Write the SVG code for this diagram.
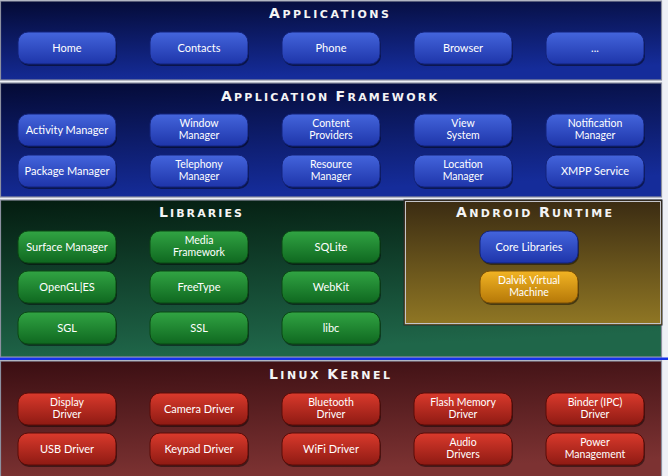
<svg xmlns="http://www.w3.org/2000/svg" width="668" height="476" viewBox="0 0 668 476">
<defs>
<linearGradient id="gNavy" x1="0" y1="0" x2="0.25" y2="1"><stop offset="0" stop-color="#040a34"/><stop offset="1" stop-color="#152c9a"/></linearGradient>
<linearGradient id="gGreenBg" x1="0" y1="0" x2="0.2" y2="1"><stop offset="0" stop-color="#041c10"/><stop offset="1" stop-color="#1f6649"/></linearGradient>
<linearGradient id="gRuntime" x1="0" y1="0" x2="0" y2="1"><stop offset="0" stop-color="#3a2b12"/><stop offset="1" stop-color="#907724"/></linearGradient>
<linearGradient id="gRedBg" x1="0" y1="0" x2="0.2" y2="1"><stop offset="0" stop-color="#3a0e12"/><stop offset="1" stop-color="#7c3232"/></linearGradient>
<linearGradient id="bBlue" x1="0" y1="0" x2="0" y2="1"><stop offset="0" stop-color="#4465dc"/><stop offset="1" stop-color="#1e35aa"/></linearGradient>
<linearGradient id="bGreen" x1="0" y1="0" x2="0" y2="1"><stop offset="0" stop-color="#31a443"/><stop offset="1" stop-color="#0f6820"/></linearGradient>
<linearGradient id="bRed" x1="0" y1="0" x2="0" y2="1"><stop offset="0" stop-color="#da3a2c"/><stop offset="1" stop-color="#8e1a13"/></linearGradient>
<linearGradient id="bYellow" x1="0" y1="0" x2="0" y2="1"><stop offset="0" stop-color="#f2b424"/><stop offset="1" stop-color="#b57808"/></linearGradient>
</defs>
<style>
.panel{stroke:#8c90a0;stroke-width:1.2}
.sh{fill:#000;opacity:0.45}
.btn{stroke-width:1}
.blue{fill:url(#bBlue);stroke:#13237a}
.green{fill:url(#bGreen);stroke:#0a4814}
.red{fill:url(#bRed);stroke:#5a0c08}
.yellow{fill:url(#bYellow);stroke:#7a5006}
.lbl{font-family:Lato,"Liberation Sans",sans-serif;font-size:11px;fill:#fff;text-anchor:middle}
.two{font-size:10.5px}
.ttl{font-family:"DejaVu Sans",sans-serif;font-weight:bold;fill:#f4f4f4}
.big{font-size:14px}
.sm{font-size:11px}
</style>
<rect x="0" y="0" width="668" height="476" fill="#eef0f6"/>
<g id="panels">
<rect class="panel" x="0.5" y="1" width="661" height="79" fill="url(#gNavy)"/>
<rect class="panel" x="0.5" y="83" width="661" height="114" fill="url(#gNavy)"/>
<rect class="panel" x="0.5" y="200" width="661" height="157" fill="url(#gGreenBg)"/>
<rect class="panel" x="0.5" y="361" width="661" height="116" fill="url(#gRedBg)"/>
<rect x="0" y="357.5" width="668" height="2.5" fill="#1532e8"/>
<rect x="404" y="200" width="258" height="125" fill="url(#gRuntime)" stroke="#2a2a30" stroke-width="1"/>
<rect x="405.5" y="201.5" width="255" height="122" fill="none" stroke="#c4c4c8" stroke-width="1"/>
</g>
<g id="titles">
<text class="ttl" x="269" y="18" textLength="120" lengthAdjust="spacing"><tspan class="big">A</tspan><tspan class="sm">PPLICATIONS</tspan></text>
<text class="ttl" x="221" y="101" textLength="216" lengthAdjust="spacing"><tspan class="big">A</tspan><tspan class="sm">PPLICATION </tspan><tspan class="big">F</tspan><tspan class="sm">RAMEWORK</tspan></text>
<text class="ttl" x="159" y="217" textLength="83" lengthAdjust="spacing"><tspan class="big">L</tspan><tspan class="sm">IBRARIES</tspan></text>
<text class="ttl" x="456" y="217" textLength="156" lengthAdjust="spacing"><tspan class="big">A</tspan><tspan class="sm">NDROID </tspan><tspan class="big">R</tspan><tspan class="sm">UNTIME</tspan></text>
<text class="ttl" x="269" y="379" textLength="121" lengthAdjust="spacing"><tspan class="big">L</tspan><tspan class="sm">INUX </tspan><tspan class="big">K</tspan><tspan class="sm">ERNEL</tspan></text>
</g>
<!-- Applications -->
<g id="home"><rect class="sh" x="19" y="34" width="98" height="32" rx="10"/><rect class="btn blue" x="18" y="32" width="98" height="32" rx="10"/><text class="lbl" x="67" y="52">Home</text></g>
<g id="contacts"><rect class="sh" x="151" y="34" width="98" height="32" rx="10"/><rect class="btn blue" x="150" y="32" width="98" height="32" rx="10"/><text class="lbl" x="199" y="52">Contacts</text></g>
<g id="phone"><rect class="sh" x="283" y="34" width="98" height="32" rx="10"/><rect class="btn blue" x="282" y="32" width="98" height="32" rx="10"/><text class="lbl" x="331" y="52">Phone</text></g>
<g id="browser"><rect class="sh" x="415" y="34" width="98" height="32" rx="10"/><rect class="btn blue" x="414" y="32" width="98" height="32" rx="10"/><text class="lbl" x="463" y="52">Browser</text></g>
<g id="more"><rect class="sh" x="547" y="34" width="98" height="32" rx="10"/><rect class="btn blue" x="546" y="32" width="98" height="32" rx="10"/><text class="lbl" x="595" y="52">...</text></g>
<!-- Framework -->
<g id="activity-manager"><rect class="sh" x="19" y="116" width="98" height="32" rx="10"/><rect class="btn blue" x="18" y="114" width="98" height="32" rx="10"/><text class="lbl" x="67" y="134">Activity Manager</text></g>
<g id="window-manager"><rect class="sh" x="151" y="116" width="98" height="32" rx="10"/><rect class="btn blue" x="150" y="114" width="98" height="32" rx="10"/><text class="lbl two" x="199" y="126.5">Window<tspan x="199" dy="12.7">Manager</tspan></text></g>
<g id="content-providers"><rect class="sh" x="283" y="116" width="98" height="32" rx="10"/><rect class="btn blue" x="282" y="114" width="98" height="32" rx="10"/><text class="lbl two" x="331" y="126.5">Content<tspan x="331" dy="12.7">Providers</tspan></text></g>
<g id="view-system"><rect class="sh" x="415" y="116" width="98" height="32" rx="10"/><rect class="btn blue" x="414" y="114" width="98" height="32" rx="10"/><text class="lbl two" x="463" y="126.5">View<tspan x="463" dy="12.7">System</tspan></text></g>
<g id="notification-manager"><rect class="sh" x="547" y="116" width="98" height="32" rx="10"/><rect class="btn blue" x="546" y="114" width="98" height="32" rx="10"/><text class="lbl two" x="595" y="126.5">Notification<tspan x="595" dy="12.7">Manager</tspan></text></g>
<g id="package-manager"><rect class="sh" x="19" y="157" width="98" height="32" rx="10"/><rect class="btn blue" x="18" y="155" width="98" height="32" rx="10"/><text class="lbl" x="67" y="175">Package Manager</text></g>
<g id="telephony-manager"><rect class="sh" x="151" y="157" width="98" height="32" rx="10"/><rect class="btn blue" x="150" y="155" width="98" height="32" rx="10"/><text class="lbl two" x="199" y="167.5">Telephony<tspan x="199" dy="12.7">Manager</tspan></text></g>
<g id="resource-manager"><rect class="sh" x="283" y="157" width="98" height="32" rx="10"/><rect class="btn blue" x="282" y="155" width="98" height="32" rx="10"/><text class="lbl two" x="331" y="167.5">Resource<tspan x="331" dy="12.7">Manager</tspan></text></g>
<g id="location-manager"><rect class="sh" x="415" y="157" width="98" height="32" rx="10"/><rect class="btn blue" x="414" y="155" width="98" height="32" rx="10"/><text class="lbl two" x="463" y="167.5">Location<tspan x="463" dy="12.7">Manager</tspan></text></g>
<g id="xmpp-service"><rect class="sh" x="547" y="157" width="98" height="32" rx="10"/><rect class="btn blue" x="546" y="155" width="98" height="32" rx="10"/><text class="lbl" x="595" y="175">XMPP Service</text></g>
<!-- Libraries -->
<g id="surface-manager"><rect class="sh" x="19" y="233" width="98" height="32" rx="10"/><rect class="btn green" x="18" y="231" width="98" height="32" rx="10"/><text class="lbl" x="67" y="251">Surface Manager</text></g>
<g id="media-framework"><rect class="sh" x="151" y="233" width="98" height="32" rx="10"/><rect class="btn green" x="150" y="231" width="98" height="32" rx="10"/><text class="lbl two" x="199" y="243.5">Media<tspan x="199" dy="12.7">Framework</tspan></text></g>
<g id="sqlite"><rect class="sh" x="283" y="233" width="98" height="32" rx="10"/><rect class="btn green" x="282" y="231" width="98" height="32" rx="10"/><text class="lbl" x="331" y="251">SQLite</text></g>
<g id="opengl-es"><rect class="sh" x="19" y="273" width="98" height="32" rx="10"/><rect class="btn green" x="18" y="271" width="98" height="32" rx="10"/><text class="lbl" x="67" y="291">OpenGL|ES</text></g>
<g id="freetype"><rect class="sh" x="151" y="273" width="98" height="32" rx="10"/><rect class="btn green" x="150" y="271" width="98" height="32" rx="10"/><text class="lbl" x="199" y="291">FreeType</text></g>
<g id="webkit"><rect class="sh" x="283" y="273" width="98" height="32" rx="10"/><rect class="btn green" x="282" y="271" width="98" height="32" rx="10"/><text class="lbl" x="331" y="291">WebKit</text></g>
<g id="sgl"><rect class="sh" x="19" y="314" width="98" height="32" rx="10"/><rect class="btn green" x="18" y="312" width="98" height="32" rx="10"/><text class="lbl" x="67" y="332">SGL</text></g>
<g id="ssl"><rect class="sh" x="151" y="314" width="98" height="32" rx="10"/><rect class="btn green" x="150" y="312" width="98" height="32" rx="10"/><text class="lbl" x="199" y="332">SSL</text></g>
<g id="libc"><rect class="sh" x="283" y="314" width="98" height="32" rx="10"/><rect class="btn green" x="282" y="312" width="98" height="32" rx="10"/><text class="lbl" x="331" y="332">libc</text></g>
<!-- Android Runtime -->
<g id="core-libraries"><rect class="sh" x="481" y="233" width="98" height="32" rx="10"/><rect class="btn blue" x="480" y="231" width="98" height="32" rx="10"/><text class="lbl" x="529" y="251">Core Libraries</text></g>
<g id="dalvik-vm"><rect class="sh" x="481" y="273" width="98" height="32" rx="10"/><rect class="btn yellow" x="480" y="271" width="98" height="32" rx="10"/><text class="lbl two" x="529" y="283.5">Dalvik Virtual<tspan x="529" dy="12.7">Machine</tspan></text></g>
<!-- Linux Kernel -->
<g id="display-driver"><rect class="sh" x="19" y="395" width="98" height="32" rx="10"/><rect class="btn red" x="18" y="393" width="98" height="32" rx="10"/><text class="lbl two" x="67" y="405.5">Display<tspan x="67" dy="12.7">Driver</tspan></text></g>
<g id="camera-driver"><rect class="sh" x="151" y="395" width="98" height="32" rx="10"/><rect class="btn red" x="150" y="393" width="98" height="32" rx="10"/><text class="lbl" x="199" y="413">Camera Driver</text></g>
<g id="bluetooth-driver"><rect class="sh" x="283" y="395" width="98" height="32" rx="10"/><rect class="btn red" x="282" y="393" width="98" height="32" rx="10"/><text class="lbl two" x="331" y="405.5">Bluetooth<tspan x="331" dy="12.7">Driver</tspan></text></g>
<g id="flash-memory-driver"><rect class="sh" x="415" y="395" width="98" height="32" rx="10"/><rect class="btn red" x="414" y="393" width="98" height="32" rx="10"/><text class="lbl two" x="463" y="405.5">Flash Memory<tspan x="463" dy="12.7">Driver</tspan></text></g>
<g id="binder-driver"><rect class="sh" x="547" y="395" width="98" height="32" rx="10"/><rect class="btn red" x="546" y="393" width="98" height="32" rx="10"/><text class="lbl two" x="595" y="405.5">Binder (IPC)<tspan x="595" dy="12.7">Driver</tspan></text></g>
<g id="usb-driver"><rect class="sh" x="19" y="435" width="98" height="32" rx="10"/><rect class="btn red" x="18" y="433" width="98" height="32" rx="10"/><text class="lbl" x="67" y="453">USB Driver</text></g>
<g id="keypad-driver"><rect class="sh" x="151" y="435" width="98" height="32" rx="10"/><rect class="btn red" x="150" y="433" width="98" height="32" rx="10"/><text class="lbl" x="199" y="453">Keypad Driver</text></g>
<g id="wifi-driver"><rect class="sh" x="283" y="435" width="98" height="32" rx="10"/><rect class="btn red" x="282" y="433" width="98" height="32" rx="10"/><text class="lbl" x="331" y="453">WiFi Driver</text></g>
<g id="audio-drivers"><rect class="sh" x="415" y="435" width="98" height="32" rx="10"/><rect class="btn red" x="414" y="433" width="98" height="32" rx="10"/><text class="lbl two" x="463" y="445.5">Audio<tspan x="463" dy="12.7">Drivers</tspan></text></g>
<g id="power-management"><rect class="sh" x="547" y="435" width="98" height="32" rx="10"/><rect class="btn red" x="546" y="433" width="98" height="32" rx="10"/><text class="lbl two" x="595" y="445.5">Power<tspan x="595" dy="12.7">Management</tspan></text></g>
</svg>
